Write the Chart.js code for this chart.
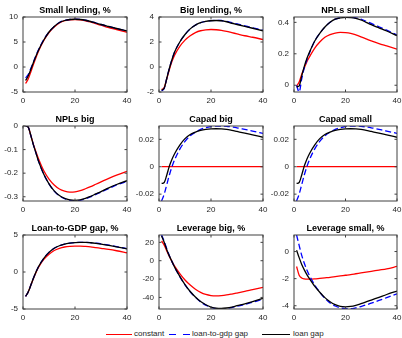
<!DOCTYPE html>
<html>
<head>
<meta charset="utf-8">
<script src="https://cdn.jsdelivr.net/npm/chart.js@4.4.1/dist/chart.umd.min.js"></script>
<style>
  html, body { margin: 0; padding: 0; background: #fff; }
  #wrap { position: relative; width: 402px; height: 338px; overflow: hidden; }
  #wrap canvas { position: absolute; }
  .lg { position: absolute; font: 8px "Liberation Sans", Arial, sans-serif; color: #262626; line-height: 10px; top: 329px; white-space: nowrap; }
  .ln { position: absolute; height: 0; top: 334px; border-top-width: 1.3px; border-top-style: solid; }
</style>
</head>
<body>
<div id="wrap">
  <div class="ln" style="left:106px;width:26px;border-top-color:#ff0000"></div>
  <div class="lg" style="left:134px">constant</div>
  <div class="ln" style="left:169px;width:7px;border-top-color:#0000ff"></div>
  <div class="ln" style="left:183px;width:7px;border-top-color:#0000ff"></div>
  <div class="lg" style="left:192px">loan-to-gdp gap</div>
  <div class="ln" style="left:262px;width:28px;border-top-color:#000000"></div>
  <div class="lg" style="left:293px">loan gap</div>
</div>
<script>
// quarters after the shock
const quarters = [1, 2, 3, 4, 5, 6, 8, 10, 12, 14, 16, 18, 20, 22, 24, 26, 28, 30, 33, 36, 40];
const xTicks = [0, 20, 40];

// Small lending, %
const smallLendingConst = [-3.3, -2.4, -1.0, 0.5, 1.9, 3.2, 5.3, 6.9, 8.0, 8.8, 9.25, 9.45, 9.5, 9.45, 9.25, 9.0, 8.65, 8.35, 7.9, 7.5, 6.9];
const smallLendingRatio = [-2.2, -1.5, -0.3, 1.0, 2.3, 3.5, 5.5, 7.0, 8.1, 8.9, 9.3, 9.5, 9.55, 9.5, 9.35, 9.1, 8.8, 8.5, 8.1, 7.7, 7.25];
const smallLendingGap = [-2.7, -1.8, -0.5, 0.9, 2.2, 3.4, 5.4, 7.0, 8.1, 8.9, 9.3, 9.5, 9.55, 9.5, 9.35, 9.1, 8.8, 8.5, 8.1, 7.7, 7.2];

// Big lending, %
const bigLendingConst = [-1.8, -1.65, -0.95, -0.2, 0.45, 0.95, 1.65, 2.15, 2.5, 2.75, 2.9, 2.97, 3.0, 2.98, 2.93, 2.85, 2.75, 2.65, 2.5, 2.38, 2.2];
const bigLendingRatio = [-1.9, -1.72, -0.9, -0.1, 0.6, 1.2, 2.0, 2.6, 3.05, 3.35, 3.55, 3.66, 3.71, 3.73, 3.72, 3.65, 3.54, 3.44, 3.29, 3.14, 2.95];
const bigLendingGap = [-1.85, -1.7, -0.9, -0.1, 0.6, 1.2, 2.0, 2.6, 3.05, 3.35, 3.55, 3.65, 3.7, 3.72, 3.7, 3.62, 3.5, 3.4, 3.25, 3.1, 2.9];

// NPLs small
const nplSmallConst = [-0.005, 0.02, 0.07, 0.11, 0.15, 0.18, 0.235, 0.275, 0.305, 0.322, 0.332, 0.336, 0.335, 0.33, 0.32, 0.308, 0.295, 0.282, 0.265, 0.25, 0.23];
const nplSmallRatio = [0.0, -0.043, 0.04, 0.11, 0.16, 0.205, 0.28, 0.33, 0.37, 0.4, 0.42, 0.43, 0.434, 0.433, 0.429, 0.42, 0.407, 0.393, 0.372, 0.35, 0.32];
const nplSmallGap = [-0.01, -0.005, 0.06, 0.12, 0.17, 0.21, 0.28, 0.33, 0.37, 0.4, 0.42, 0.428, 0.432, 0.43, 0.425, 0.415, 0.4, 0.385, 0.365, 0.345, 0.315];

// NPLs big
const nplBigConst = [0, -0.005, -0.04, -0.078, -0.11, -0.14, -0.19, -0.225, -0.25, -0.267, -0.276, -0.28, -0.279, -0.274, -0.266, -0.257, -0.247, -0.237, -0.222, -0.208, -0.192];
const nplBigRatio = [0, -0.005, -0.04, -0.08, -0.115, -0.15, -0.205, -0.245, -0.276, -0.296, -0.308, -0.315, -0.317, -0.315, -0.309, -0.3, -0.29, -0.28, -0.265, -0.25, -0.235];
const nplBigGap = [0, -0.005, -0.04, -0.08, -0.115, -0.15, -0.205, -0.245, -0.275, -0.295, -0.307, -0.313, -0.315, -0.313, -0.307, -0.298, -0.288, -0.278, -0.262, -0.248, -0.232];

// Capad big
const capadBigConst = [0, 0, 0, 0, 0, 0, 0, 0, 0, 0, 0, 0, 0, 0, 0, 0, 0, 0, 0, 0, 0];
const capadBigRatio = [-0.025, -0.02, -0.013, -0.006, 0.0, 0.005, 0.0128, 0.0185, 0.0225, 0.0252, 0.0272, 0.0285, 0.0293, 0.0297, 0.0297, 0.0295, 0.029, 0.0284, 0.0272, 0.026, 0.0243];
const capadBigGap = [-0.0122, -0.0115, -0.006, 0.0005, 0.0055, 0.0095, 0.0158, 0.0205, 0.0235, 0.0253, 0.0265, 0.0272, 0.0276, 0.0277, 0.0276, 0.0272, 0.0265, 0.0257, 0.0245, 0.0232, 0.0215];

// Capad small
const capadSmallConst = [0, 0, 0, 0, 0, 0, 0, 0, 0, 0, 0, 0, 0, 0, 0, 0, 0, 0, 0, 0, 0];
const capadSmallRatio = [-0.025, -0.02, -0.013, -0.006, 0.0, 0.005, 0.0128, 0.0185, 0.0225, 0.0252, 0.0272, 0.0285, 0.0293, 0.0297, 0.0297, 0.0295, 0.029, 0.0284, 0.0272, 0.026, 0.0243];
const capadSmallGap = [-0.0122, -0.0115, -0.006, 0.0005, 0.0055, 0.0095, 0.0158, 0.0205, 0.0235, 0.0253, 0.0265, 0.0272, 0.0276, 0.0277, 0.0276, 0.0272, 0.0265, 0.0257, 0.0245, 0.0232, 0.0215];

// Loan-to-GDP gap, %
const loanGdpConst = [-3.3, -2.7, -1.8, -0.9, -0.05, 0.65, 1.7, 2.4, 2.9, 3.2, 3.38, 3.47, 3.5, 3.5, 3.46, 3.4, 3.3, 3.2, 3.05, 2.87, 2.6];
const loanGdpRatio = [-3.3, -2.7, -1.8, -0.85, 0.0, 0.75, 1.85, 2.65, 3.2, 3.55, 3.78, 3.91, 3.98, 4.01, 4.01, 3.97, 3.89, 3.8, 3.63, 3.43, 3.15];
const loanGdpGap = [-3.3, -2.7, -1.8, -0.85, 0.0, 0.75, 1.85, 2.65, 3.2, 3.55, 3.78, 3.9, 3.97, 4.0, 4.0, 3.95, 3.87, 3.77, 3.6, 3.4, 3.12];

// Leverage big, %
const levBigConst = [21.5, 17, 10.5, 4.5, -1, -6, -14, -21, -26.5, -31, -34.5, -36.8, -38, -38.3, -38, -37.3, -36.3, -35.2, -33.5, -31.5, -29];
const levBigRatio = [28, 21, 13, 5.5, -1, -7, -17.3, -26.3, -33.8, -39.8, -44.8, -48.4, -50.9, -52.2, -52.5, -52, -51, -49.6, -47.6, -45.2, -42];
const levBigGap = [27, 20, 12, 5, -1, -7, -17, -26, -33.5, -39.5, -44.5, -48, -50.5, -51.8, -52, -51.5, -50.5, -49, -47, -44.5, -41];

// Leverage small, %
const levSmallConst = [-1.1, -1.75, -1.95, -2.02, -2.04, -2.04, -2.02, -1.98, -1.94, -1.9, -1.85, -1.8, -1.75, -1.7, -1.64, -1.58, -1.52, -1.46, -1.37, -1.28, -1.1];
const levSmallRatio = [1.22, 0.45, -0.28, -0.87, -1.37, -1.77, -2.45, -3.0, -3.45, -3.8, -4.02, -4.15, -4.21, -4.22, -4.16, -4.06, -3.94, -3.81, -3.61, -3.4, -3.12];
const levSmallGap = [0.1, -0.45, -0.95, -1.35, -1.7, -2.0, -2.55, -3.0, -3.4, -3.7, -3.92, -4.05, -4.08, -4.05, -3.97, -3.85, -3.72, -3.58, -3.38, -3.17, -2.92];

const panels = [
  { title: "Small lending, %", constant: smallLendingConst, ratio: smallLendingRatio, gap: smallLendingGap, yMin: -5, yMax: 10, yTicks: [-5, 0, 5, 10], col: 0, row: 0 },
  { title: "Big lending, %", constant: bigLendingConst, ratio: bigLendingRatio, gap: bigLendingGap, yMin: -2, yMax: 4, yTicks: [-2, 0, 2, 4], col: 1, row: 0 },
  { title: "NPLs small", constant: nplSmallConst, ratio: nplSmallRatio, gap: nplSmallGap, yMin: -0.043, yMax: 0.434, yTicks: [0, 0.2, 0.4], col: 2, row: 0 },
  { title: "NPLs big", constant: nplBigConst, ratio: nplBigRatio, gap: nplBigGap, yMin: -0.318, yMax: 0, yTicks: [-0.3, -0.2, -0.1, 0], col: 0, row: 1 },
  { title: "Capad big", constant: capadBigConst, ratio: capadBigRatio, gap: capadBigGap, yMin: -0.025, yMax: 0.0297, yTicks: [-0.02, 0, 0.02], col: 1, row: 1 },
  { title: "Capad small", constant: capadSmallConst, ratio: capadSmallRatio, gap: capadSmallGap, yMin: -0.025, yMax: 0.0297, yTicks: [-0.02, 0, 0.02], col: 2, row: 1 },
  { title: "Loan-to-GDP gap, %", constant: loanGdpConst, ratio: loanGdpRatio, gap: loanGdpGap, yMin: -5, yMax: 5, yTicks: [-5, 0, 5], col: 0, row: 2 },
  { title: "Leverage big, %", constant: levBigConst, ratio: levBigRatio, gap: levBigGap, yMin: -52.6, yMax: 28, yTicks: [-40, -20, 0, 20], col: 1, row: 2 },
  { title: "Leverage small, %", constant: levSmallConst, ratio: levSmallRatio, gap: levSmallGap, yMin: -4.24, yMax: 1.22, yTicks: [-4, -2, 0], col: 2, row: 2 },
];

// plot-area boxes of the 3x3 grid
const colLeft = [23, 159, 294];
const colWidth = [104, 104, 103];
const rowTop = [17, 126, 235];
const rowHeight = [75, 75, 74];
const AXW = 30, TITLEH = 18, XAXH = 18, PADR = 10;

const tickFont = { family: "'Liberation Sans', Arial, sans-serif", size: 8 };
const axisColor = "#262626";

// MATLAB-style box with inward ticks
const boxFrame = {
  id: "boxFrame",
  afterDraw(chart) {
    const { ctx, chartArea: a, scales: { x, y } } = chart;
    ctx.save();
    ctx.strokeStyle = "#404040";
    ctx.lineWidth = 1;
    ctx.strokeRect(a.left, a.top, a.right - a.left, a.bottom - a.top);
    ctx.beginPath();
    x.ticks.forEach(t => {
      const px = x.getPixelForValue(t.value);
      ctx.moveTo(px, a.bottom); ctx.lineTo(px, a.bottom - 2.5);
      ctx.moveTo(px, a.top); ctx.lineTo(px, a.top + 2.5);
    });
    y.ticks.forEach(t => {
      const py = y.getPixelForValue(t.value);
      ctx.moveTo(a.left, py); ctx.lineTo(a.left + 2.5, py);
      ctx.moveTo(a.right, py); ctx.lineTo(a.right - 2.5, py);
    });
    ctx.stroke();
    ctx.restore();
  }
};

const pts = vals => quarters.map((q, i) => ({ x: q, y: vals[i] }));

const wrap = document.getElementById("wrap");
panels.forEach(p => {
  const cv = document.createElement("canvas");
  const w = AXW + colWidth[p.col] + PADR;
  const h = TITLEH + rowHeight[p.row] + XAXH;
  cv.width = w;
  cv.height = h;
  cv.style.left = (colLeft[p.col] - AXW) + "px";
  cv.style.top = (rowTop[p.row] - TITLEH) + "px";
  cv.style.width = w + "px";
  cv.style.height = h + "px";
  wrap.appendChild(cv);

  new Chart(cv, {
    type: "line",
    data: {
      datasets: [
        { label: "constant", data: pts(p.constant), borderColor: "#ff0000", borderWidth: 1.3, order: 3 },
        { label: "loan-to-gdp gap", data: pts(p.ratio), borderColor: "#0000ff", borderWidth: 1.3, borderDash: [6, 3], order: 2 },
        { label: "loan gap", data: pts(p.gap), borderColor: "#000000", borderWidth: 1.3, order: 1 },
      ],
    },
    options: {
      responsive: false,
      animation: false,
      devicePixelRatio: 1,
      layout: { padding: { right: PADR, top: 0, left: 0, bottom: 0 } },
      elements: { point: { radius: 0 }, line: { cubicInterpolationMode: "monotone", fill: false } },
      plugins: {
        legend: { display: false },
        tooltip: { enabled: false },
        title: {
          display: true,
          fullSize: false,
          text: p.title,
          color: "#000",
          font: { family: "'Liberation Sans', Arial, sans-serif", size: 9, weight: "bold", lineHeight: 1.2 },
          padding: { top: 6.2, bottom: 1 },
        },
      },
      scales: {
        x: {
          type: "linear",
          min: 0,
          max: 40,
          afterBuildTicks: s => { s.ticks = xTicks.map(v => ({ value: v })); },
          afterFit: s => { s.height = XAXH; },
          grid: { display: false, drawTicks: false },
          border: { display: false },
          ticks: { font: tickFont, color: axisColor, padding: 4, maxRotation: 0, autoSkip: false },
        },
        y: {
          type: "linear",
          min: p.yMin,
          max: p.yMax,
          afterBuildTicks: s => { s.ticks = p.yTicks.map(v => ({ value: v })); },
          afterFit: s => { s.width = AXW; },
          grid: { display: false, drawTicks: false },
          border: { display: false },
          ticks: { font: tickFont, color: axisColor, padding: 5, autoSkip: false, callback: v => String(v) },
        },
      },
    },
    plugins: [boxFrame],
  });
});
</script>
</body>
</html>
